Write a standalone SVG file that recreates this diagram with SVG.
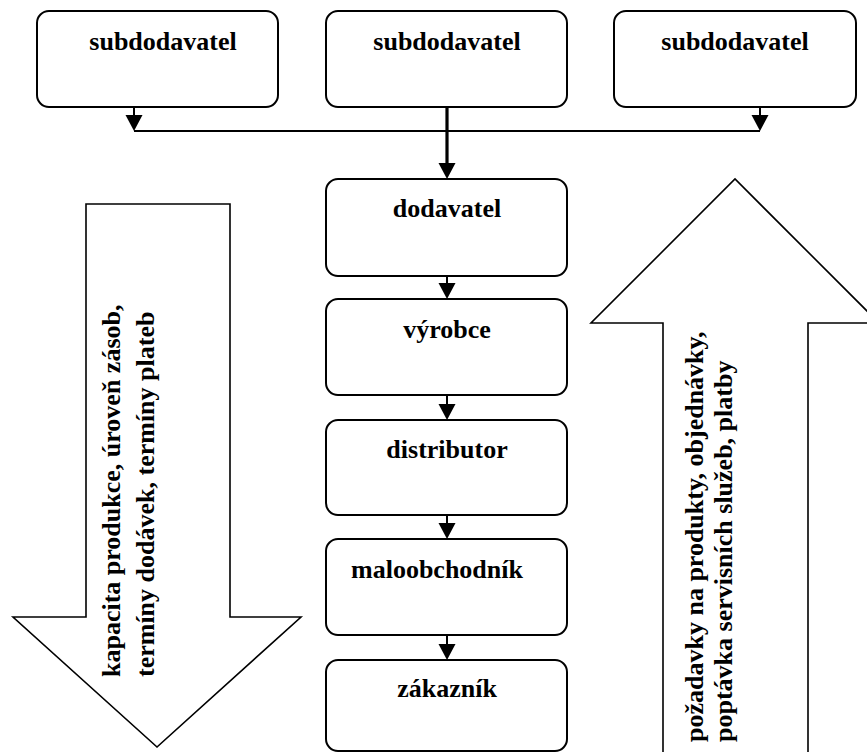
<svg xmlns="http://www.w3.org/2000/svg" width="867" height="752" viewBox="0 0 867 752">
  <style>
    .box { fill: #fff; stroke: #000; stroke-width: 2; }
    .big { fill: #fff; stroke: #000; stroke-width: 1.6; stroke-linejoin: miter; }
    .lbl { font-family: "Liberation Serif", "Times New Roman", serif; font-weight: bold; font-size: 26px; fill: #000; }
    .mid { text-anchor: middle; }
    .ln { stroke: #000; stroke-width: 2; fill: none; }
    .thick { stroke: #000; stroke-width: 3.2; fill: none; }
    .head { fill: #000; stroke: none; }
  </style>
  <defs>
    <!-- filled arrowhead, tip at origin pointing down -->
    <path id="ah" d="M -8.5 -16 L 8.5 -16 L 0 0 Z"/>
  </defs>

  <rect width="867" height="752" fill="#fff"/>

  <!-- large flow arrows -->
  <g id="info-down">
    <path class="big" d="M 86 204 L 230 204 L 230 617 L 301 617 L 157 747 L 13 617 L 86 617 Z"/>
    <text class="lbl" transform="translate(120 677) rotate(-90)">kapacita produkce, úroveň zásob,</text>
    <text class="lbl" transform="translate(154 677) rotate(-90)">termíny dodávek, termíny plateb</text>
  </g>
  <g id="info-up">
    <path class="big" d="M 663 780 L 663 323 L 591 323 L 735 179 L 879 323 L 808 323 L 808 780 Z"/>
    <text class="lbl" transform="translate(703 742) rotate(-90)">požadavky na produkty, objednávky,</text>
    <text class="lbl" transform="translate(732 742) rotate(-90)">poptávka servisních služeb, platby</text>
  </g>

  <!-- nodes -->
  <g id="sub1">
    <rect class="box" x="37" y="11" width="241" height="96" rx="12"/>
    <text class="lbl mid" x="163" y="50">subdodavatel</text>
  </g>
  <g id="sub2">
    <rect class="box" x="326" y="11" width="241" height="96" rx="12"/>
    <text class="lbl mid" x="447" y="50">subdodavatel</text>
  </g>
  <g id="sub3">
    <rect class="box" x="614" y="11" width="242" height="96" rx="12"/>
    <text class="lbl mid" x="735" y="50">subdodavatel</text>
  </g>
  <g id="dodavatel">
    <rect class="box" x="326" y="179" width="241" height="97" rx="12"/>
    <text class="lbl mid" x="447" y="217">dodavatel</text>
  </g>
  <g id="vyrobce">
    <rect class="box" x="326" y="299" width="241" height="96" rx="12"/>
    <text class="lbl mid" x="447" y="338">výrobce</text>
  </g>
  <g id="distributor">
    <rect class="box" x="326" y="420" width="241" height="95" rx="12"/>
    <text class="lbl mid" x="447" y="458">distributor</text>
  </g>
  <g id="maloobchodnik">
    <rect class="box" x="326" y="539" width="241" height="96" rx="12"/>
    <text class="lbl mid" x="437" y="578">maloobchodník</text>
  </g>
  <g id="zakaznik">
    <rect class="box" x="326" y="660" width="241" height="91" rx="12"/>
    <text class="lbl mid" x="447" y="697">zákazník</text>
  </g>

  <!-- connectors -->
  <g id="connectors">
    <line class="ln" x1="134" y1="131" x2="760" y2="131"/>
    <line class="ln" x1="134" y1="107" x2="134" y2="118"/>
    <use href="#ah" class="head" x="134" y="131"/>
    <line class="ln" x1="760" y1="107" x2="760" y2="118"/>
    <use href="#ah" class="head" x="760" y="131"/>
    <line class="thick" x1="447" y1="107" x2="447" y2="166"/>
    <use href="#ah" class="head" x="447" y="179"/>
    <line class="ln" x1="447" y1="276" x2="447" y2="286"/>
    <use href="#ah" class="head" x="447" y="299"/>
    <line class="ln" x1="447" y1="395" x2="447" y2="407"/>
    <use href="#ah" class="head" x="447" y="420"/>
    <line class="ln" x1="447" y1="515" x2="447" y2="526"/>
    <use href="#ah" class="head" x="447" y="539"/>
    <line class="ln" x1="447" y1="635" x2="447" y2="647"/>
    <use href="#ah" class="head" x="447" y="660"/>
  </g>
</svg>
